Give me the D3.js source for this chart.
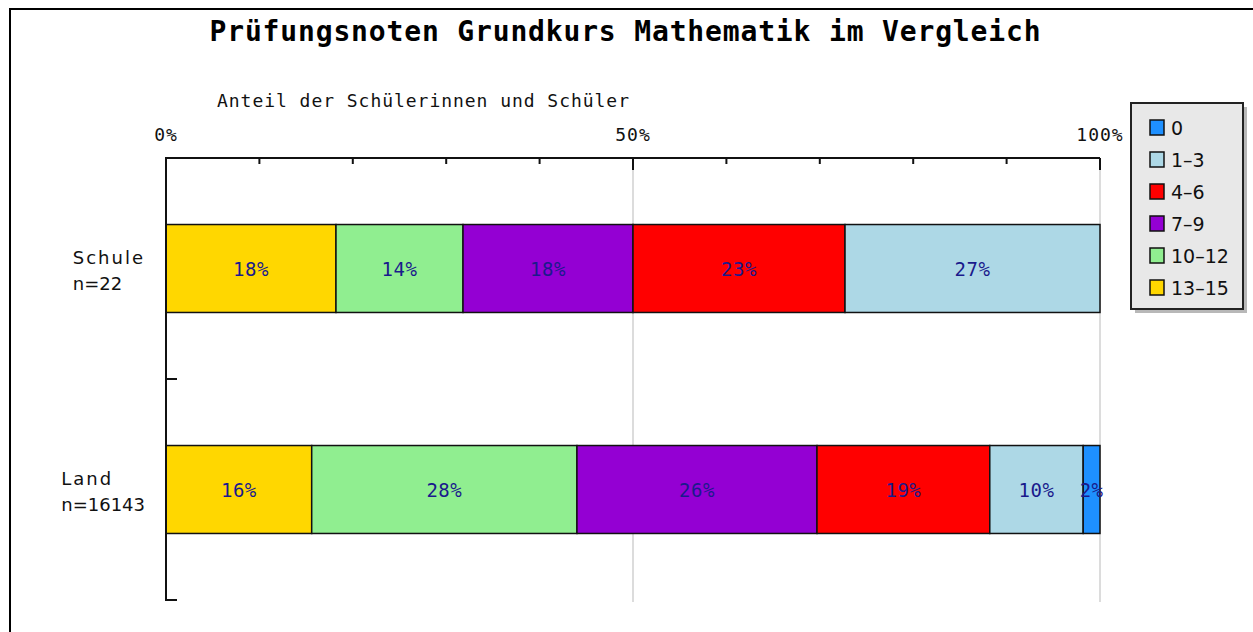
<!DOCTYPE html>
<html>
<head>
<meta charset="utf-8">
<script src="https://cdn.jsdelivr.net/npm/d3@7"></script>
<style>
  body { margin: 0; background: #fff; }
  svg { display: block; }
</style>
</head>
<body>
<div id="chart-area"></div>
<script>
// data
var categories = ["Schule", "Land"];
var sampleSizes = ["n=22", "n=16143"];
var grades = ["13-15", "10-12", "7-9", "4-6", "1-3", "0"];
var legendOrder = ["0", "1-3", "4-6", "7-9", "10-12", "13-15"];
var schuleValues = [18.2, 13.6, 18.2, 22.7, 27.3, 0];
var landValues = [15.6, 28.4, 25.7, 18.5, 10.0, 1.8];
var xTicks = [0, 10, 20, 30, 40, 50, 60, 70, 80, 90, 100];
var xLabels = [0, 50, 100];
var gradeColors = ["#ffd700", "#90ee90", "#9400d3", "#ff0000", "#add8e6", "#1e90ff"];

window.onload = () => {
	var W = 1253, H = 632;
	var svg = d3.select("#chart-area").append("svg")
		.attr("width", W)
		.attr("height", H);

	// frame
	svg.append("path")
		.attr("d", "M10," + H + " V9 H" + W)
		.attr("fill", "none")
		.attr("stroke", "#000")
		.attr("stroke-width", 2);

	var x = d3.scaleLinear().domain([0, 100]).range([166, 1100]);
	var y = d3.scaleBand().domain(categories).range([158, 600])
		.paddingInner(0.602).paddingOuter(0.301);
	var color = d3.scaleOrdinal().domain(grades).range(gradeColors);

	// title
	svg.append("text")
		.attr("x", 625).attr("y", 41)
		.attr("text-anchor", "middle")
		.attr("font-family", "DejaVu Sans Mono")
		.attr("font-weight", "bold")
		.attr("font-size", 28)
		.attr("textLength", 831)
		.attr("lengthAdjust", "spacing")
		.text("Prüfungsnoten Grundkurs Mathematik im Vergleich");

	svg.append("text")
		.attr("x", 217).attr("y", 107)
		.attr("font-family", "DejaVu Sans Mono")
		.attr("font-size", 18)
		.attr("textLength", 412)
		.attr("lengthAdjust", "spacing")
		.attr("fill", "#111")
		.text("Anteil der Schülerinnen und Schüler");

	// grid
	svg.selectAll(".grid").data([50, 100]).enter().append("line")
		.attr("x1", d => x(d)).attr("x2", d => x(d))
		.attr("y1", 158).attr("y2", 602)
		.attr("stroke", "#dcdcdc").attr("stroke-width", 2);

	// bars
	var rows = categories.map((c, i) => {
		var vals = i === 0 ? schuleValues : landValues;
		var r = { cat: c };
		grades.forEach((g, j) => r[g] = vals[j]);
		return r;
	});
	var series = d3.stack().keys(grades)(rows);

	var layer = svg.selectAll(".layer").data(series).enter().append("g")
		.attr("fill", d => color(d.key));
	layer.selectAll("rect").data(d => d.filter(p => p[1] - p[0] > 0)).enter().append("rect")
		.attr("x", d => x(d[0]))
		.attr("y", d => y(d.data.cat))
		.attr("width", d => x(d[1]) - x(d[0]))
		.attr("height", y.bandwidth())
		.attr("stroke", "#111")
		.attr("stroke-width", 1.5);
	layer.selectAll("text").data(d => d.filter(p => p[1] - p[0] > 0)).enter().append("text")
		.attr("x", d => (x(d[0]) + x(d[1])) / 2)
		.attr("y", d => y(d.data.cat) + y.bandwidth() / 2 + 7)
		.attr("text-anchor", "middle")
		.attr("font-family", "DejaVu Sans Mono")
		.attr("font-size", 19)
		.attr("letter-spacing", 0.5)
		.attr("fill", "#1a1a8c")
		.text(d => Math.round(d[1] - d[0]) + "%");

	// top axis
	svg.append("line")
		.attr("x1", 166).attr("x2", 1100).attr("y1", 158).attr("y2", 158)
		.attr("stroke", "#111").attr("stroke-width", 2);
	svg.selectAll(".xtick").data(xTicks).enter().append("line")
		.attr("x1", d => x(d)).attr("x2", d => x(d))
		.attr("y1", 158).attr("y2", d => d % 50 === 0 ? 170 : 164)
		.attr("stroke", "#111").attr("stroke-width", 2);
	svg.selectAll(".xlab").data(xLabels).enter().append("text")
		.attr("x", d => x(d)).attr("y", 141)
		.attr("text-anchor", "middle")
		.attr("font-family", "DejaVu Sans Mono")
		.attr("font-size", 18)
		.attr("letter-spacing", 1)
		.attr("fill", "#111")
		.text(d => d + "%");

	// left axis
	svg.append("line")
		.attr("x1", 166).attr("x2", 166).attr("y1", 157).attr("y2", 601)
		.attr("stroke", "#111").attr("stroke-width", 2);
	var gap = (y.step() - y.bandwidth()) / 2;
	svg.selectAll(".ytick").data(categories).enter().append("line")
		.attr("x1", 166).attr("x2", 177)
		.attr("y1", d => y(d) + y.bandwidth() + gap)
		.attr("y2", d => y(d) + y.bandwidth() + gap)
		.attr("stroke", "#111").attr("stroke-width", 2);

	categories.forEach((c, i) => {
		var t = svg.append("text")
			.attr("font-family", "DejaVu Sans")
			.attr("font-size", 18)
			.attr("fill", "#111");
		var cy = y(c) + y.bandwidth() / 2;
		t.append("tspan").attr("y", cy - 5).attr("letter-spacing", 2).text(c);
		t.append("tspan").attr("y", cy + 21).text(sampleSizes[i]);
		var w = 0;
		t.selectAll("tspan").each(function () { w = Math.max(w, this.getComputedTextLength()); });
		t.selectAll("tspan").attr("x", 145 - w);
	});

	// legend
	var lg = svg.append("g").attr("transform", "translate(1131,103)");
	lg.append("rect").attr("x", 4).attr("y", 4).attr("width", 112).attr("height", 206)
		.attr("fill", "#b8b8b8");
	lg.append("rect").attr("width", 112).attr("height", 206)
		.attr("fill", "#e8e8e8").attr("stroke", "#222").attr("stroke-width", 2);
	legendOrder.forEach((g, i) => {
		var row = lg.append("g").attr("transform", "translate(19," + (17 + i * 32) + ")");
		row.append("rect").attr("width", 14).attr("height", 15)
			.attr("fill", color(g)).attr("stroke", "#111").attr("stroke-width", 1.5);
		row.append("text").attr("x", 21).attr("y", 15)
			.attr("font-family", "DejaVu Sans")
			.attr("font-size", 19)
			.attr("fill", "#111")
			.text(g.replace("-", "–"));
	});
};
</script>
</body>
</html>
